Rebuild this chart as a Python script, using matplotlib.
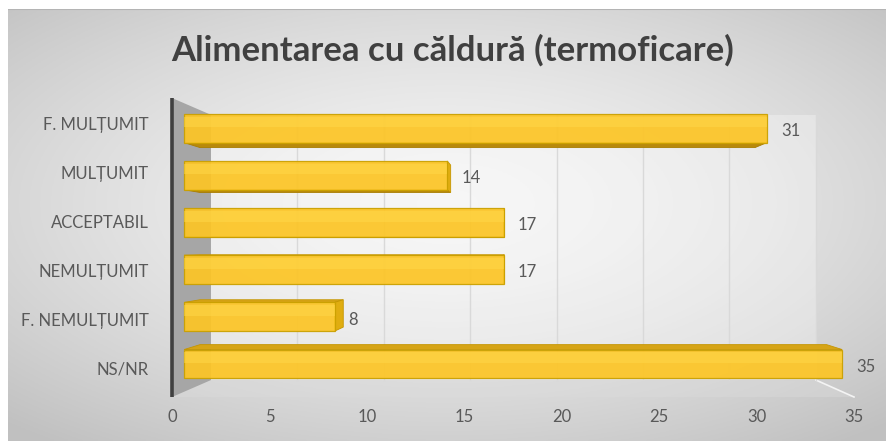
import numpy as np
import matplotlib
matplotlib.use("Agg")
import matplotlib.pyplot as plt
from matplotlib.patches import Polygon

plt.rcParams['font.family'] = ['Lato', 'DejaVu Sans']

# data, top to bottom as in the chart
categories = ["F. MULȚUMIT", "MULȚUMIT", "ACCEPTABIL", "NEMULȚUMIT", "F. NEMULȚUMIT", "NS/NR"]
values = [31, 14, 17, 17, 8, 35]
xticks = [0, 5, 10, 15, 20, 25, 30, 35]
title = "Alimentarea cu căldură (termoficare)"

W, H = 887, 441
fig = plt.figure(figsize=(W / 100, H / 100), dpi=100)
fig.patch.set_facecolor("white")

# radial gray background
bg = fig.add_axes([8 / W, 0, 1 - 8 / W, 1 - 9 / H])
gx, gy = np.meshgrid(np.linspace(-1, 1, 400), np.linspace(-1, 1, 200))
r = np.sqrt((gx * 0.95) ** 2 + ((gy + 0.1) * 1.0) ** 2)
shade = 0.955 - 0.2 * (np.clip(r, 0, 1.4) / 1.4) ** 1.5
bg.imshow(np.dstack([shade] * 3), aspect="auto", extent=(0, 1, 0, 1))
bg.plot([0, 1], [1, 1], color="#b4b4b4", lw=1.5, transform=bg.transAxes)
bg.axis("off")

# plot axes = front plane of the 3d box
ax = fig.add_axes([172 / W, 44 / H, 682 / W, 299 / H])
ax.set_xlim(0, 35)
ylo, yhi = -0.59, 5.53
ax.set_ylim(ylo, yhi)
ax.patch.set_alpha(0)
for s in ax.spines.values():
    s.set_visible(False)

# simple perspective: depth z in [0,1], towards vanishing point
XV, YV, DEPTH = 17.7, 2.48, 0.113


def proj(x, y, z):
    k = 1 - DEPTH * z
    return XV + k * (x - XV), YV + k * (y - YV)


def poly(pts, **kw):
    p = Polygon([proj(*q) for q in pts], closed=True, clip_on=False, **kw)
    ax.add_patch(p)
    return p


xmax = xticks[-1]
# back wall
poly([(0, ylo, 1), (xmax, ylo, 1), (xmax, yhi, 1), (0, yhi, 1)],
     facecolor="white", alpha=0.3, lw=0, zorder=1)
# floor
poly([(0, ylo, 0), (xmax, ylo, 0), (xmax, ylo, 1), (0, ylo, 1)],
     facecolor="#dcdcdc", alpha=0.4, lw=0, zorder=1)
fx, fy = zip(proj(xmax, ylo, 0), proj(xmax, ylo, 1))
ax.plot(fx, fy, color="#f4f4f4", lw=1.2, zorder=1.5, clip_on=False)
# side wall
poly([(0, ylo, 0), (0, yhi, 0), (0, yhi, 1), (0, ylo, 1)],
     facecolor="#a6a6a6", lw=0, zorder=2)
# gridlines on back wall
for t in xticks[1:]:
    gxs, gys = zip(proj(t, ylo, 1), proj(t, yhi, 1))
    ax.plot(gxs, gys, color="#d9d9d9", lw=1, zorder=1.5, clip_on=False)
# dark front edge of the wall
ax.plot([0, 0], [ylo, yhi], color="#404040", lw=2.6, zorder=6, clip_on=False,
        solid_capstyle="butt")

# bars
Z0, Z1, h = 0.31, 0.72, 0.305
pos = list(range(len(categories)))[::-1]
for yc, v in zip(pos, values):
    if yc + h < YV:
        poly([(0, yc + h, Z0), (v, yc + h, Z0), (v, yc + h, Z1), (0, yc + h, Z1)],
             facecolor="#d6a416", edgecolor="#c59500", lw=0.6, zorder=3)
    if yc - h > YV:
        poly([(0, yc - h, Z0), (v, yc - h, Z0), (v, yc - h, Z1), (0, yc - h, Z1)],
             facecolor="#b8890c", edgecolor="#a87d00", lw=0.6, zorder=3)
    if v < XV:
        poly([(v, yc - h, Z0), (v, yc + h, Z0), (v, yc + h, Z1), (v, yc - h, Z1)],
             facecolor="#e0ad10", edgecolor="#c59500", lw=0.6, zorder=3)
    poly([(0, yc - h, Z0), (v, yc - h, Z0), (v, yc + h, Z0), (0, yc + h, Z0)],
         facecolor="#fcc526", edgecolor="#caa000", lw=0.9, zorder=4, alpha=0.93)
    # lighter highlight band
    poly([(0, yc + 0.02, Z0), (v, yc + 0.02, Z0), (v, yc + h * 0.8, Z0), (0, yc + h * 0.8, Z0)],
         facecolor="#ffd84a", lw=0, zorder=4.5, alpha=0.5)
    lx, ly = proj(v, yc, Z0)
    ax.annotate(str(v), (lx, ly), xytext=(10, -2), textcoords="offset points",
                va="center", ha="left", fontsize=12, color="#595959", zorder=7,
                annotation_clip=False)

ax.set_yticks(pos)
ax.set_yticklabels(categories)
ax.set_xticks(xticks)
ax.set_xticklabels([str(t) for t in xticks])
ax.tick_params(axis="both", length=0, labelsize=12, labelcolor="#595959")
ax.tick_params(axis="y", pad=17)
ax.tick_params(axis="x", pad=9)

fig.text(453 / W, 1 - 50 / H, title, ha="center", va="center",
         fontsize=25, fontweight="bold", color="#404040")

fig.savefig("out.png", dpi=100, facecolor=fig.get_facecolor())
